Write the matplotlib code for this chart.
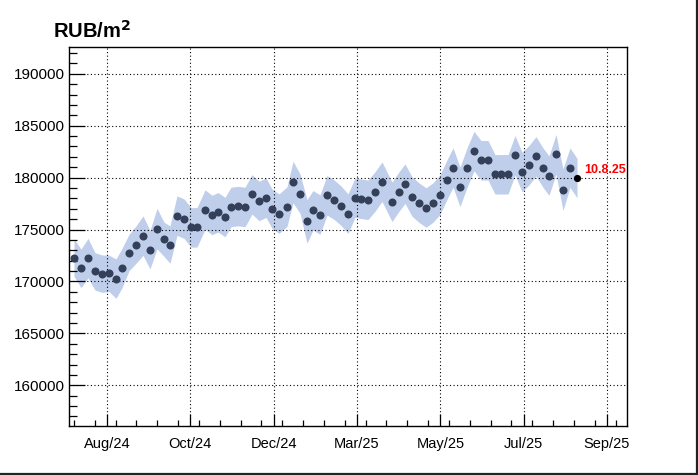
import numpy as np
import matplotlib.pyplot as plt
from matplotlib.lines import Line2D
from matplotlib.ticker import MultipleLocator

plt.rcParams["font.family"] = ["Liberation Sans", "DejaVu Sans"]

C_POINT = "#344059"
C_BAND = "#bfceea"
C_LAST = "#000000"
C_LABEL = "#ff0000"

# days since first sample
days = [0, 7, 14, 21, 28, 35, 42, 48, 55, 62,
        69, 76, 83, 90, 96, 103, 110, 117, 123, 131,
        138, 144, 151, 157, 164, 171, 178, 185, 192, 198,
        205, 213, 219, 226, 233, 239, 246, 253, 260, 267,
        274, 281, 287, 294, 301, 308, 318, 325, 331, 338,
        345, 352, 359, 366, 373, 379, 386, 393, 400, 407,
        414, 421, 427, 434, 441, 448, 455, 462, 469, 475,
        482, 489, 496, 503]

# price per square metre, RUB
price = [172300, 171260, 172250, 170970, 170750, 170780, 170270, 171290, 172780, 173550,
         174410, 173060, 175090, 174060, 173550, 176340, 176050, 175210, 175210, 176920,
         176400, 176660, 176200, 177170, 177260, 177170, 178390, 177750, 178070, 177010,
         176530, 177210, 179580, 178460, 175790, 176850, 176440, 178290, 177880, 177300,
         176530, 178070, 177960, 177860, 178660, 179610, 177670, 178660, 179420, 178180,
         177590, 177120, 177600, 178360, 179810, 180970, 179110, 180960, 182560, 181670,
         181670, 180320, 180320, 180320, 182150, 180540, 181190, 182050, 180960, 180190,
         182250, 178840, 180960, 179960]

# half-width of the shaded band, RUB
err = [1800, 1850, 1900, 1800, 1800, 1750, 1900, 1900, 1750, 1800,
       1900, 1850, 1950, 1650, 1800, 1900, 1900, 1900, 1900, 1900,
       1900, 1900, 1900, 1900, 1900, 1900, 1900, 1900, 1900, 1900,
       1900, 1900, 2000, 1900, 2100, 1900, 1900, 1900, 1900, 1900,
       1900, 1900, 1900, 1900, 1900, 1900, 1900, 1900, 1900, 1900,
       1900, 1900, 1900, 1900, 1900, 1900, 1900, 1900, 1900, 1900,
       1900, 1900, 1900, 1900, 1900, 1900, 1900, 1900, 1900, 1900,
       1900, 2000, 1900, 1900]

month_labels = ["Aug/24", "Oct/24", "Dec/24", "Mar/25", "May/25", "Jul/25", "Sep/25"]
first_tick = 33.0
tick_step = 83.33
last_label = "10.8.25"

days = np.array(days, dtype=float)
price = np.array(price, dtype=float)
err = np.array(err, dtype=float)

fig = plt.figure(figsize=(6.98, 4.75), dpi=100)
ax = fig.add_axes([69 / 698, 49 / 475, 557.7 / 698, 378.7 / 475])

ax.fill_between(days, price - err, price + err, color=C_BAND, lw=0, zorder=1)
ax.plot(days[:-1], price[:-1], "o", color=C_POINT, ms=5.8, mew=0, zorder=3)
ax.plot(days[-1:], price[-1:], "o", color=C_LAST, ms=5.2, mew=0, zorder=4)
ax.annotate(last_label, (days[-1], price[-1]), xytext=(5, 6),
            textcoords="offset points", color=C_LABEL, fontsize=9,
            fontweight="bold", va="center", ha="left", zorder=5)

ax.set_xlim(-5, 552.7)
ax.set_ylim(156080, 192550)

xt = first_tick + tick_step * np.arange(len(month_labels))
ax.set_xticks(xt)
ax.set_xticklabels(month_labels)
ax.xaxis.set_minor_locator(MultipleLocator(tick_step / 4))
ax.yaxis.set_major_locator(MultipleLocator(5000))
ax.yaxis.set_minor_locator(MultipleLocator(1000))

ax.tick_params(axis="both", which="both", direction="in", width=0.9,
               top=False, right=False, labelsize=10.5, colors="black")
ax.tick_params(axis="y", which="major", length=11.5, pad=3, labelsize=11)
ax.tick_params(axis="y", which="minor", length=5.8)
ax.tick_params(axis="x", which="major", length=8.3, pad=8)
ax.tick_params(axis="x", which="minor", length=4.1)

ax.grid(True, which="major", color="black", lw=0.8, ls=(0, (1, 2.2)))
ax.set_axisbelow(False)
for s in ax.spines.values():
    s.set_linewidth(1.0)
    s.set_color("black")

fig.text(53 / 698, 1 - 37.5 / 475, r"RUB/m$^\mathbf{2}$", fontsize=14.5,
         fontweight="bold", ha="left", va="baseline")

# canvas border (right and bottom)
fig.add_artist(Line2D([0, 1], [1.5 / 475, 1.5 / 475], color="#222222", lw=1.6,
                      transform=fig.transFigure))
fig.add_artist(Line2D([1 - 1.5 / 698, 1 - 1.5 / 698], [0, 1], color="#222222", lw=1.6,
                      transform=fig.transFigure))

fig.savefig("out.png", dpi=100)
